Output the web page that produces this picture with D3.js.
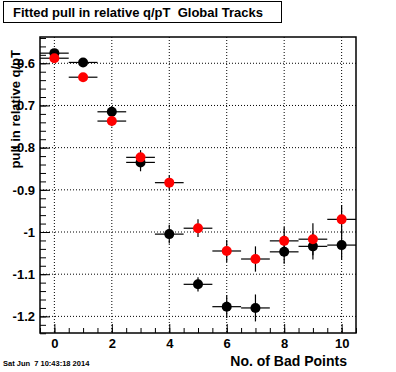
<!DOCTYPE html>
<html><head><meta charset="utf-8">
<script src="https://cdn.jsdelivr.net/npm/d3@7"></script>
<style>body{margin:0;background:#fff}svg{display:block;font-family:"Liberation Sans",Arial,sans-serif}.pre{white-space:pre}</style>
</head><body>
<script>
const xValues = [0,1,2,3,4,5,6,7,8,9,10];
const blackValues = [-0.576,-0.598,-0.715,-0.835,-1.005,-1.124,-1.177,-1.180,-1.047,-1.034,-1.031];
const blackErrors = [0.007,0.007,0.013,0.021,0.022,0.017,0.027,0.032,0.028,0.031,0.035];
const redValues = [-0.588,-0.633,-0.737,-0.823,-0.883,-0.991,-1.045,-1.064,-1.021,-1.017,-0.970];
const redErrors = [0.006,0.007,0.012,0.017,0.017,0.021,0.026,0.030,0.033,0.038,0.034];
const xErr = 0.5;
const xTickLabels = [0,2,4,6,8,10];
const yTickLabels = [-0.6,-0.7,-0.8,-0.9,-1,-1.1,-1.2];
const titleText = "Fitted pull in relative q/pT  Global Tracks";
const xTitle = "No. of Bad Points";
const yTitle = "pull in relative q/pT";
const dateText = "Sat Jun  7 10:43:18 2014";

const W=396,H=372;
const L=40,R=356,T=37,B=333;
const svg=d3.select("body").append("svg").attr("width",W).attr("height",H);
const x=d3.scaleLinear().domain([-0.5,10.5]).range([L,R]);
const y=d3.scaleLinear().domain([-1.2394,-0.5377]).range([B,T]);

// grid
const g=svg.append("g");
g.selectAll(".vg").data(xTickLabels).join("line")
 .attr("x1",d=>x(d)).attr("x2",d=>x(d)).attr("y1",T).attr("y2",B)
 .attr("stroke","#000").attr("stroke-dasharray","1,2");
g.selectAll(".hg").data(yTickLabels).join("line")
 .attr("x1",L).attr("x2",R).attr("y1",d=>y(d)).attr("y2",d=>y(d))
 .attr("stroke","#000").attr("stroke-dasharray","1,2");

// axes ticks (inside)
const xAxis=d3.axisBottom(x).tickValues(d3.range(-0.5,10.51,0.5)).tickSize(-5).tickFormat("");
svg.append("g").attr("transform",`translate(0,${B})`).call(xAxis).call(a=>{a.select(".domain").remove();});
const xMaj=d3.axisBottom(x).tickValues(xTickLabels).tickSize(-9).tickPadding(6).tickFormat(d3.format("d"));
svg.append("g").attr("transform",`translate(0,${B})`).call(xMaj).call(a=>{
  a.select(".domain").remove();
  a.selectAll("text").attr("font-size",13).attr("font-weight","bold").attr("font-family","Liberation Sans, Arial");
});
const yMinor=d3.range(-1.24,-0.539,0.02).map(v=>+v.toFixed(2));
const yAxis=d3.axisLeft(y).tickValues(yMinor).tickSize(-6).tickFormat("");
svg.append("g").attr("transform",`translate(${L},0)`).call(yAxis).call(a=>a.select(".domain").remove());
const yMaj=d3.axisLeft(y).tickValues(yTickLabels).tickSize(-10).tickPadding(5).tickFormat(d=>String(d));
svg.append("g").attr("transform",`translate(${L},0)`).call(yMaj).call(a=>{
  a.select(".domain").remove();
  a.selectAll("text").attr("font-size",13).attr("font-weight","bold").attr("font-family","Liberation Sans, Arial");
});
svg.selectAll(".tick line").attr("stroke","#000");

// frame
svg.append("rect").attr("x",L).attr("y",T).attr("width",R-L).attr("height",B-T)
 .attr("fill","none").attr("stroke","#000").attr("stroke-width",1.5);

function drawSeries(vals,errs,color){
  const s=svg.append("g");
  s.selectAll(".h").data(xValues).join("line")
   .attr("x1",(d)=>x(Math.max(-0.5,d-xErr))).attr("x2",d=>x(Math.min(10.5,d+xErr)))
   .attr("y1",(d,i)=>y(vals[i])).attr("y2",(d,i)=>y(vals[i])).attr("stroke","#000").attr("stroke-width",1.2);
  s.selectAll(".v").data(xValues).join("line")
   .attr("x1",d=>x(d)).attr("x2",d=>x(d))
   .attr("y1",(d,i)=>y(vals[i]-errs[i])).attr("y2",(d,i)=>y(vals[i]+errs[i])).attr("stroke","#000").attr("stroke-width",1.2);
  s.selectAll("circle").data(xValues).join("circle")
   .attr("cx",d=>x(d)).attr("cy",(d,i)=>y(vals[i])).attr("r",5).attr("fill",color);
}
drawSeries(blackValues,blackErrors,"#000");
drawSeries(redValues,redErrors,"#ff0000");

// title box
svg.append("rect").attr("x",3.5).attr("y",1.5).attr("width",278).attr("height",21)
 .attr("fill","#fff").attr("stroke","#000").attr("stroke-width",1);
svg.append("text").attr("class","pre").attr("x",13).attr("y",17).attr("font-size",13).attr("font-weight","bold").text(titleText);

svg.append("text").attr("x",347).attr("y",366).attr("text-anchor","end").attr("font-size",14).attr("font-weight","bold").text(xTitle);
svg.append("text").attr("transform","translate(20,50) rotate(-90)").attr("text-anchor","end")
 .attr("font-size",13).attr("font-weight","bold").text(yTitle);
svg.append("text").attr("class","pre").attr("x",3).attr("y",366).attr("font-size",7.5).attr("font-weight","bold").text(dateText);
</script>
</body></html>
